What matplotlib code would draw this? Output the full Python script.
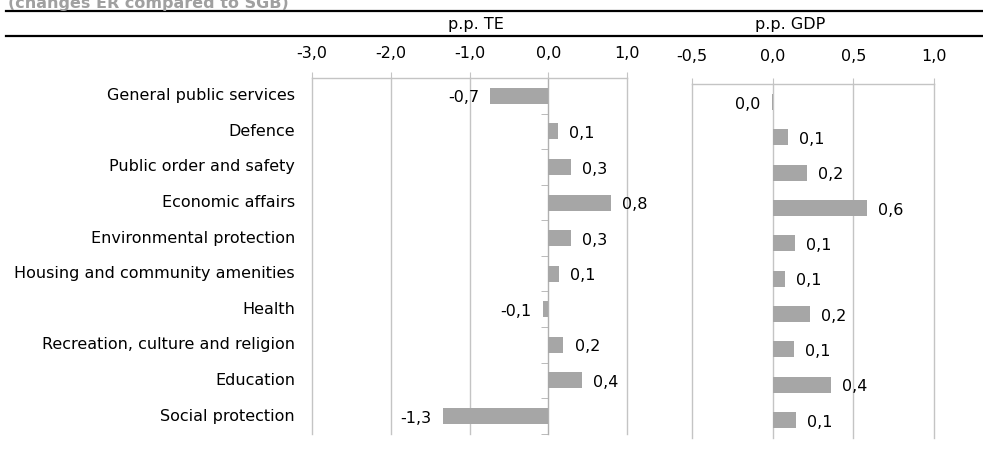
import numpy as np
import matplotlib
matplotlib.use("Agg")
import matplotlib.pyplot as plt
from matplotlib.lines import Line2D
from matplotlib.ticker import FixedLocator, FuncFormatter, NullFormatter
from matplotlib.transforms import blended_transform_factory

plt.rcParams['font.family'] = ['DejaVu Sans']

categories = ["General public services", "Defence", "Public order and safety",
              "Economic affairs", "Environmental protection",
              "Housing and community amenities", "Health",
              "Recreation, culture and religion", "Education", "Social protection"]
te_values = [-0.74, 0.12, 0.28, 0.79, 0.29, 0.13, -0.07, 0.19, 0.43, -1.34]
gdp_values = [-0.005, 0.095, 0.21, 0.585, 0.14, 0.074, 0.23, 0.13, 0.36, 0.147]
te_ticks = [-3.0, -2.0, -1.0, 0.0, 1.0]
gdp_ticks = [-0.5, 0.0, 0.5, 1.0]
title_text = "(changes ER compared to SGB)"
te_header = "p.p. TE"
gdp_header = "p.p. GDP"

W, H = 983, 453
BAR = '#a6a6a6'
GRID = '#c4c4c4'
FS = 11.5

fig = plt.figure(figsize=(W / 100, H / 100), dpi=100)


def rect(x0, y0, x1, y1):
    return [x0 / W, 1 - y1 / H, (x1 - x0) / W, (y1 - y0) / H]


def comma(v, pos=None):
    s = f"{v:.1f}"
    if s == "-0.0":
        s = "0.0"
    return s.replace('.', ',')


ax1 = fig.add_axes(rect(312, 78, 627.3, 433.8))
ax2 = fig.add_axes(rect(691.7, 84.3, 934.3, 437.7))

y = np.arange(len(categories))

for ax, vals, ticks, pad in ((ax1, te_values, te_ticks, 8.5), (ax2, gdp_values, gdp_ticks, 10.5)):
    ax.set_xlim(ticks[0], ticks[-1])
    ax.set_ylim(len(categories) - 0.5, -0.5)
    ax.set_axisbelow(True)
    ax.barh(y, vals, height=0.45, color=BAR, edgecolor='none', zorder=3)
    ax.xaxis.tick_top()
    ax.set_xticks(ticks)
    ax.xaxis.set_major_formatter(FuncFormatter(comma))
    ax.tick_params(axis='x', which='major', length=4, color=GRID, pad=pad,
                   labelsize=FS, labelcolor='black')
    ax.grid(axis='x', color=GRID, lw=1)
    for gl in ax.get_xgridlines():
        gl.set_clip_on(False)
    for s in ('right', 'bottom'):
        ax.spines[s].set_visible(False)
    ax.spines['top'].set_color(GRID)
    ax.spines['top'].set_linewidth(1)
    ax.set_yticks([])
    for yi, v in zip(y, vals):
        off = 8 if v >= 0 else -8
        ax.annotate(comma(v), (v, yi), xytext=(off, -1.5), textcoords='offset points',
                    ha='left' if v >= 0 else 'right', va='center', fontsize=FS, zorder=4)

# left panel: zero axis with category separator ticks
ax1.spines['left'].set_position(('data', 0))
ax1.spines['left'].set_color('#b0b0b0')
ax1.yaxis.set_minor_locator(FixedLocator(np.arange(-0.5, len(categories), 1.0)))
ax1.yaxis.set_minor_formatter(NullFormatter())
ax1.tick_params(axis='y', which='minor', length=5, color='#b0b0b0', direction='out')
ax1.tick_params(axis='y', which='major', length=0)
ax2.spines['left'].set_visible(False)

# category labels
tr = blended_transform_factory(ax1.transAxes, ax1.transData)
for yi, c in zip(y, categories):
    ax1.text(-17 / 315.3, yi, c, transform=tr, ha='right', va='center', fontsize=FS)

# header lines & texts
for yy in (11, 36):
    fig.add_artist(Line2D([6 / W, 1], [1 - yy / H] * 2, transform=fig.transFigure,
                          color='black', lw=1.6))
fig.text(476 / W, 1 - 24 / H, te_header, ha='center', va='center', fontsize=FS)
fig.text(790 / W, 1 - 24 / H, gdp_header, ha='center', va='center', fontsize=FS)
fig.text(8 / W, 1 - 8 / H, title_text, ha='left', va='baseline', fontsize=FS,
         fontweight='bold', color='#a0a0a0')

fig.savefig("out.png", dpi=100)
